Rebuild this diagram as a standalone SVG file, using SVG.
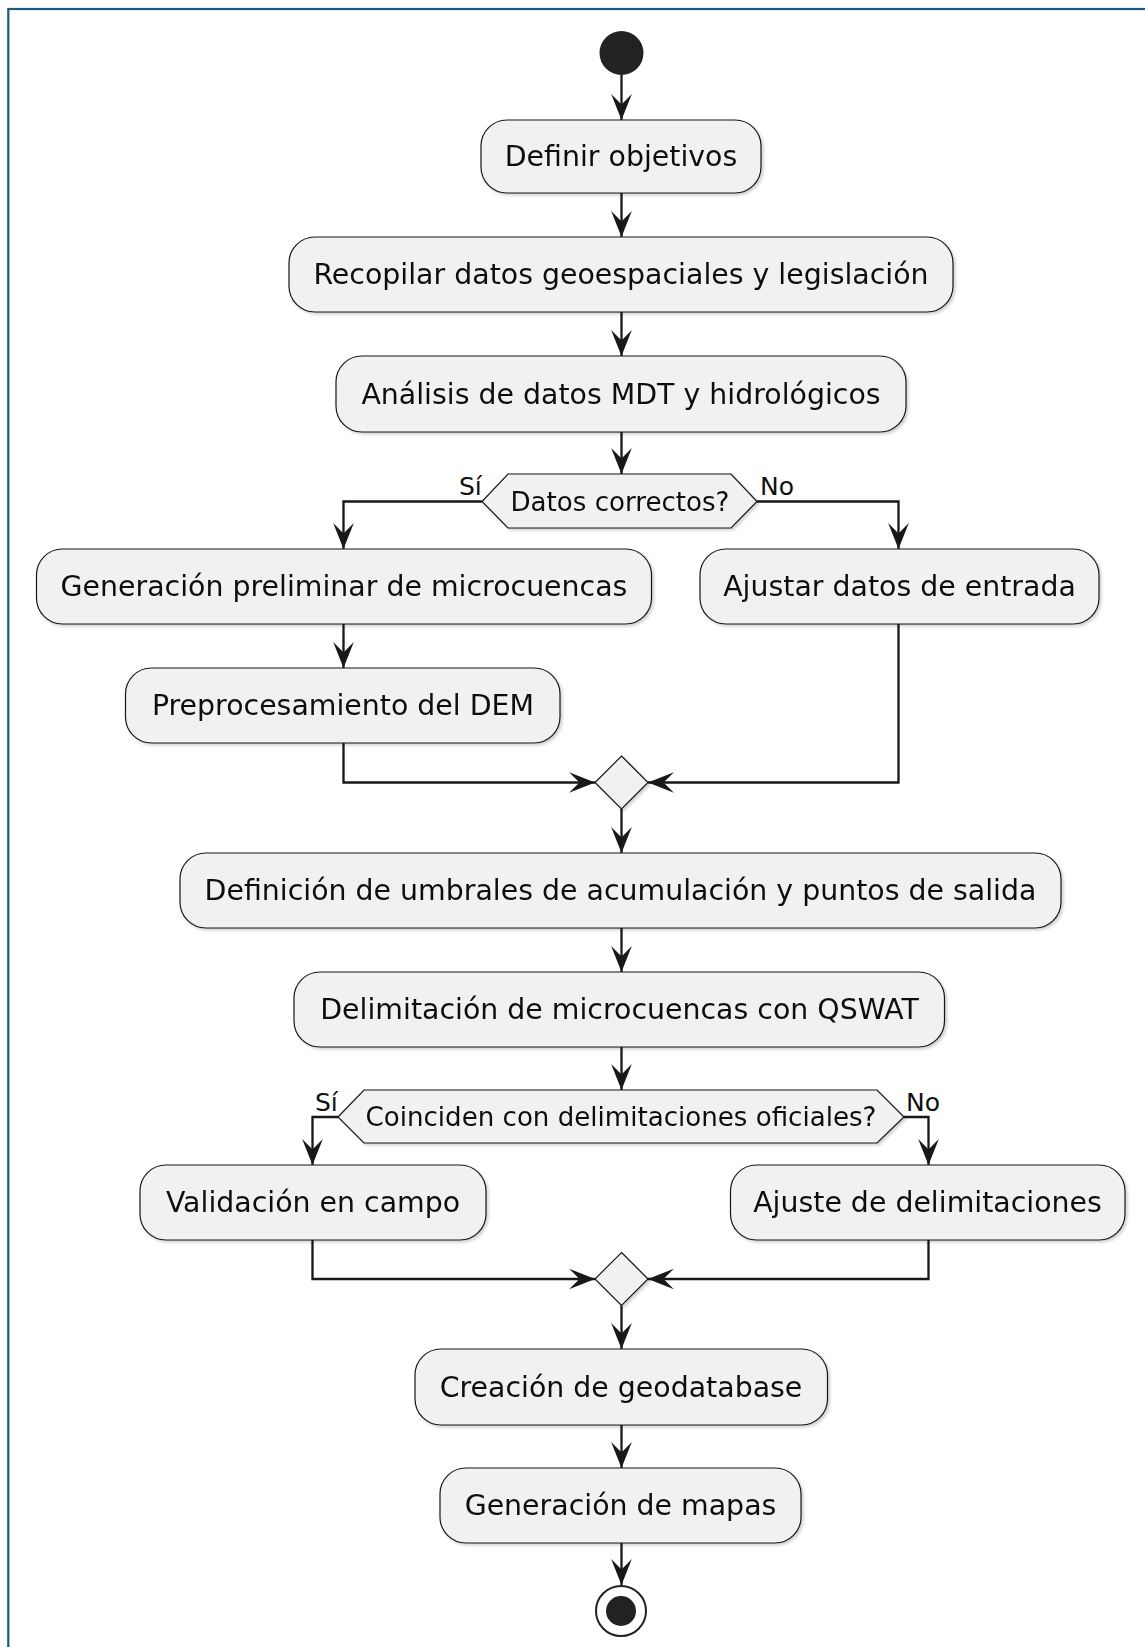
<svg xmlns="http://www.w3.org/2000/svg" width="1145" height="1647" viewBox="0 0 1145 1647">
<defs>
<style>
.box{fill:#F1F1F1;stroke:#181818;stroke-width:1.2;}
.t{font-family:"DejaVu Sans",sans-serif;font-size:28.4px;fill:#111;text-anchor:middle;}
.d{font-family:"DejaVu Sans",sans-serif;font-size:26.1px;fill:#111;text-anchor:middle;}
.l{font-family:"DejaVu Sans",sans-serif;font-size:25px;fill:#111;}
.e{fill:none;stroke:#181818;stroke-width:2.3;}
</style>
<marker id="ah" markerUnits="userSpaceOnUse" markerWidth="30" markerHeight="30" viewBox="-25 -12 27 24" refX="0" refY="0" orient="auto">
<path d="M0,0 L-23.3,-9.3 L-14,0 L-23.3,9.3 Z" fill="#181818"/>
</marker>
<filter id="sh" x="-10%" y="-10%" width="130%" height="140%">
<feDropShadow dx="2" dy="2" stdDeviation="1.5" flood-color="#000" flood-opacity="0.18"/>
</filter>
</defs>
<rect x="0" y="0" width="1145" height="1647" fill="#FFFFFF"/>
<rect x="8.3" y="9" width="1400" height="1800" fill="none" stroke="#1b5b7c" stroke-width="2.2"/>

<g id="connectors">
<path class="e" d="M621.5,75 L621.5,120" marker-end="url(#ah)"/>
<path class="e" d="M621.5,193 L621.5,237" marker-end="url(#ah)"/>
<path class="e" d="M621.5,312 L621.5,356" marker-end="url(#ah)"/>
<path class="e" d="M621.5,432 L621.5,474" marker-end="url(#ah)"/>
<path class="e" d="M482,501.5 L343.5,501.5 L343.5,549" marker-end="url(#ah)"/>
<path class="e" d="M757,501.5 L898.5,501.5 L898.5,549" marker-end="url(#ah)"/>
<path class="e" d="M343.5,624 L343.5,668" marker-end="url(#ah)"/>
<path class="e" d="M343.5,743 L343.5,782.5 L595,782.5" marker-end="url(#ah)"/>
<path class="e" d="M898.5,624 L898.5,782.5 L648,782.5" marker-end="url(#ah)"/>
<path class="e" d="M621.5,809 L621.5,853" marker-end="url(#ah)"/>
<path class="e" d="M621.5,928 L621.5,972" marker-end="url(#ah)"/>
<path class="e" d="M621.5,1047 L621.5,1090" marker-end="url(#ah)"/>
<path class="e" d="M338,1117 L312.5,1117 L312.5,1165" marker-end="url(#ah)"/>
<path class="e" d="M904,1117 L928.5,1117 L928.5,1165" marker-end="url(#ah)"/>
<path class="e" d="M312.5,1240 L312.5,1279 L595,1279" marker-end="url(#ah)"/>
<path class="e" d="M928.5,1240 L928.5,1279 L648,1279" marker-end="url(#ah)"/>
<path class="e" d="M621.5,1305.5 L621.5,1349" marker-end="url(#ah)"/>
<path class="e" d="M621.5,1425 L621.5,1468" marker-end="url(#ah)"/>
<path class="e" d="M621.5,1543 L621.5,1585" marker-end="url(#ah)"/>
<text class="l" x="459" y="495">Sí</text>
<text class="l" x="760" y="495">No</text>
<text class="l" x="315" y="1111">Sí</text>
<text class="l" x="906" y="1111">No</text>
</g>

<g id="start"><circle cx="621.5" cy="53" r="22" fill="#222222"/></g>

<g id="n1" filter="url(#sh)"><rect class="box" x="481" y="120" width="280" height="73" rx="26"/><text class="t" x="621" y="166">Definir objetivos</text></g>
<g id="n2" filter="url(#sh)"><rect class="box" x="289" y="237" width="664" height="75" rx="26"/><text class="t" x="621" y="284">Recopilar datos geoespaciales y legislación</text></g>
<g id="n3" filter="url(#sh)"><rect class="box" x="336" y="356" width="570" height="76" rx="26"/><text class="t" x="621" y="404">Análisis de datos MDT y hidrológicos</text></g>
<g id="d1" filter="url(#sh)"><polygon class="box" points="482,501.5 508,474 731,474 757,501.5 731,528 508,528"/><text class="d" x="620" y="510.5">Datos correctos?</text></g>
<g id="n4" filter="url(#sh)"><rect class="box" x="36.5" y="549" width="615" height="75" rx="26"/><text class="t" x="344" y="596">Generación preliminar de microcuencas</text></g>
<g id="n5" filter="url(#sh)"><rect class="box" x="700" y="549" width="399" height="75" rx="26"/><text class="t" x="899.5" y="596">Ajustar datos de entrada</text></g>
<g id="n6" filter="url(#sh)"><rect class="box" x="125.5" y="668" width="434.5" height="75" rx="26"/><text class="t" x="343" y="715">Preprocesamiento del DEM</text></g>
<g id="m1" filter="url(#sh)"><polygon class="box" points="621.5,756 648,782.5 621.5,809 595,782.5"/></g>
<g id="n7" filter="url(#sh)"><rect class="box" x="180" y="853" width="881" height="75" rx="26"/><text class="t" x="620.5" y="900">Definición de umbrales de acumulación y puntos de salida</text></g>
<g id="n8" filter="url(#sh)"><rect class="box" x="294" y="972" width="650.5" height="75" rx="26"/><text class="t" x="619.5" y="1019">Delimitación de microcuencas con QSWAT</text></g>
<g id="d2" filter="url(#sh)"><polygon class="box" points="338,1117 364,1090 877,1090 904,1117 877,1143 364,1143"/><text class="d" x="621" y="1126">Coinciden con delimitaciones oficiales?</text></g>
<g id="n9" filter="url(#sh)"><rect class="box" x="140" y="1165" width="346" height="75" rx="26"/><text class="t" x="313" y="1212">Validación en campo</text></g>
<g id="n10" filter="url(#sh)"><rect class="box" x="730.5" y="1165" width="394.5" height="75" rx="26"/><text class="t" x="927.5" y="1212">Ajuste de delimitaciones</text></g>
<g id="m2" filter="url(#sh)"><polygon class="box" points="621.5,1252.5 648,1279 621.5,1305.5 595,1279"/></g>
<g id="n11" filter="url(#sh)"><rect class="box" x="415" y="1349" width="412.5" height="76" rx="26"/><text class="t" x="621" y="1397">Creación de geodatabase</text></g>
<g id="n12" filter="url(#sh)"><rect class="box" x="440" y="1468" width="361" height="75" rx="26"/><text class="t" x="620.5" y="1515">Generación de mapas</text></g>
<g id="end"><circle cx="621" cy="1611" r="25" fill="none" stroke="#222222" stroke-width="2"/><circle cx="621" cy="1611" r="15" fill="#222222"/></g>
</svg>
